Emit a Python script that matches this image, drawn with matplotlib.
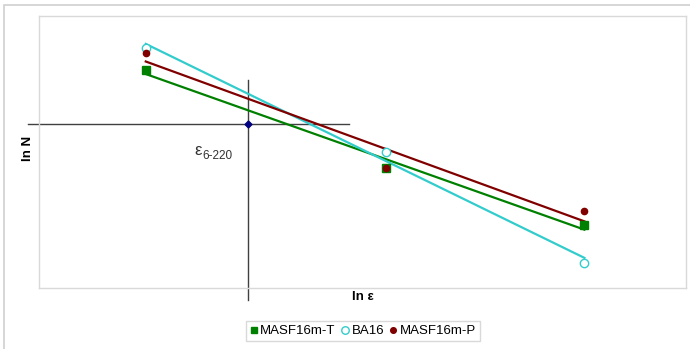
import numpy as np
import matplotlib
matplotlib.use("Agg")
import matplotlib.pyplot as plt
from matplotlib.patches import Rectangle

plt.rcParams['font.family'] = ['Liberation Sans', 'DejaVu Sans']

# data (arbitrary ln units)
ln_eps = [1.65, 5.37, 8.43]
masf_t = [8.01, 4.41, 2.32]
ba16 = [8.82, 5.00, 0.92]
masf_p = [8.64, 4.41, 2.83]
eps_ref_x = 3.23
eps_ref_y = 6.03
series_names = ["MASF16m-T", "BA16", "MASF16m-P"]

fig = plt.figure(figsize=(6.9, 3.49), dpi=100)
fig.patches.append(Rectangle((4/690, -0.1), 1.2, 1 - 5/349 + 0.1, transform=fig.transFigure,
                             fill=False, edgecolor='#d0d0d0', linewidth=1.2))
ax = fig.add_axes([39/690, 61/349, 647/690, 272/349])
ax.set_xlim(0, 10)
ax.set_ylim(0, 10)
ax.set_xticks([])
ax.set_yticks([])
for s in ax.spines.values():
    s.set_color('#d9d9d9')
    s.set_linewidth(1.0)

colors = ['#008000', '#33CCCC', '#800000']
x = np.array(ln_eps)
for ys, c in zip([masf_t, ba16, masf_p], colors):
    k, b = np.polyfit(x, ys, 1)
    ax.plot([x[0], x[-1]], [k*x[0]+b, k*x[-1]+b], color=c, lw=1.6, zorder=2)

h1, = ax.plot(ln_eps, masf_t, 's', color='#008000', ms=5.5, ls='none', zorder=3)
h2, = ax.plot(ln_eps, ba16, 'o', mfc='white', mec='#33CCCC', mew=1.0, ms=6, ls='none', zorder=3)
h3, = ax.plot(ln_eps, masf_p, 'o', color='#800000', ms=4.5, ls='none', zorder=3)

# crosshair
ax.plot([-0.17, 4.79], [eps_ref_y, eps_ref_y], color='#404040', lw=1.0, clip_on=False, zorder=1)
ax.plot([eps_ref_x, eps_ref_x], [-0.44, 7.65], color='#404040', lw=1.0, clip_on=False, zorder=1)
ax.plot([eps_ref_x], [eps_ref_y], 'D', color='#000080', ms=3.5, zorder=4)

ax.text(2.52, 5.05, "ε", fontsize=12, ha='right', va='center', color='#333333')
ax.text(2.53, 4.85, "6-220", fontsize=8.5, ha='left', va='center', color='#333333')

fig.text(28/690, 1 - 148/349, "ln N", rotation=90, fontsize=9.5, fontweight='bold',
         ha='center', va='center')
fig.text(363/690, 1 - 297/349, "ln ε", fontsize=9.5, fontweight='bold', ha='center', va='center')

leg = fig.legend([h1, h2, h3], series_names, loc='center', bbox_to_anchor=(363/690, 1 - 331/349),
                 ncol=3, fontsize=9.5, frameon=True, fancybox=False, handlelength=0.6,
                 handletextpad=0.2, columnspacing=0.4, borderpad=0.3, markerscale=0.9)
leg.get_frame().set_edgecolor('#d0d0d0')
leg.get_frame().set_linewidth(1.0)

fig.savefig("out.png", dpi=100)
